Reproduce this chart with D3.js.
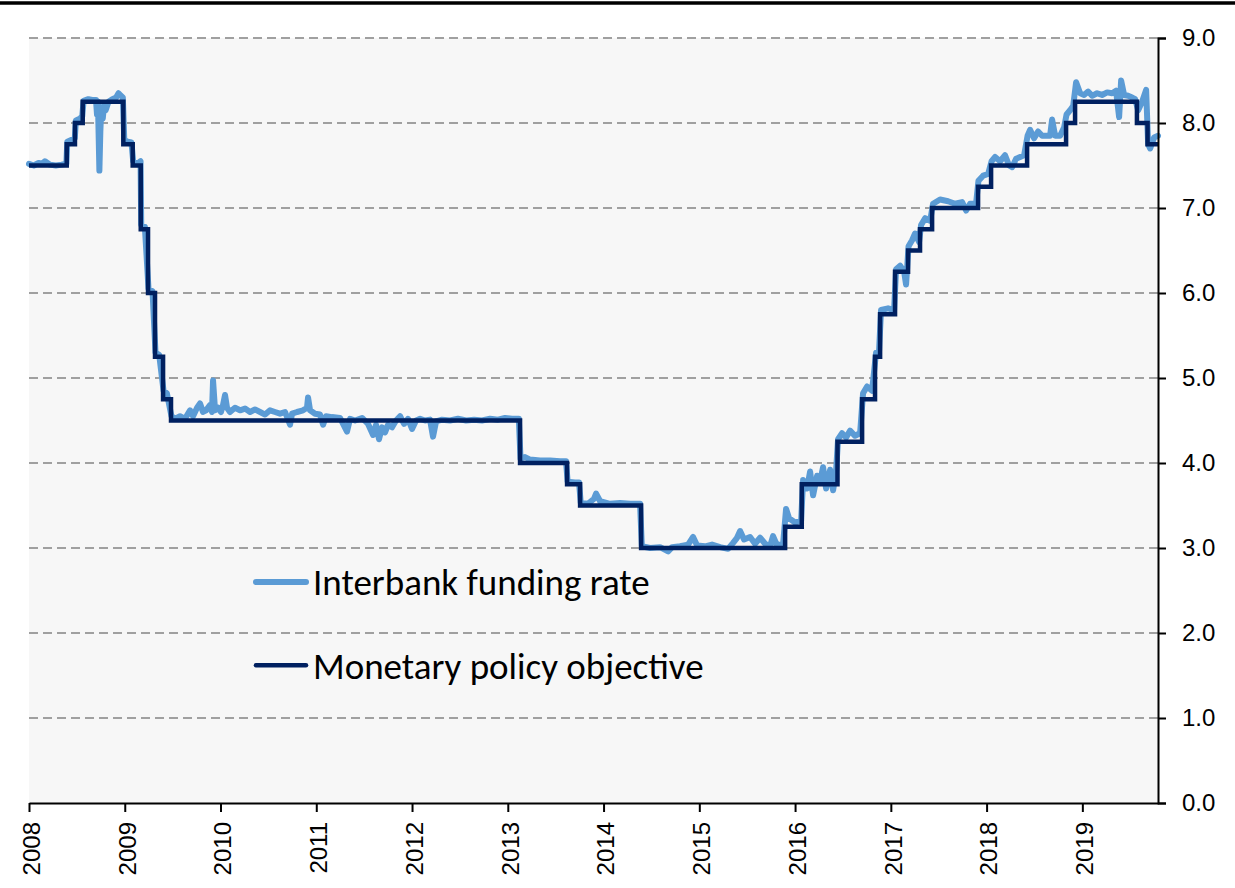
<!DOCTYPE html>
<html>
<head>
<meta charset="utf-8">
<script src="https://cdn.jsdelivr.net/npm/d3@7"></script>
<style>
  html, body { margin: 0; padding: 0; background: #ffffff; }
  svg { display: block; }
</style>
</head>
<body>
<svg id="chart" width="1235" height="888"></svg>
<script>
// ---------------- DATA (decimal years / percent) ----------------
const yearTicks = [2008, 2009, 2010, 2011, 2012, 2013, 2014, 2015, 2016, 2017, 2018, 2019];
const rateTicks = [0, 1, 2, 3, 4, 5, 6, 7, 8, 9];
const seriesNames = ["Interbank funding rate", "Monetary policy objective"];
const endYear = 2019.79;

// Monetary policy objective: step changes (date, new level)
const policyDates = [2008.000, 2008.394, 2008.480, 2008.561, 2008.985, 2009.083, 2009.167, 2009.243,
  2009.316, 2009.400, 2009.483, 2013.128, 2013.619, 2013.755, 2014.392, 2015.896, 2016.070,
  2016.443, 2016.700, 2016.835, 2016.888, 2017.044, 2017.180, 2017.305, 2017.431, 2017.911,
  2018.047, 2018.423, 2018.830, 2018.924, 2019.570, 2019.681, 2019.79];
const policyRates = [7.50, 7.75, 8.00, 8.25, 7.75, 7.50, 6.75, 6.00,
  5.25, 4.75, 4.50, 4.00, 3.75, 3.50, 3.00, 3.25, 3.75,
  4.25, 4.75, 5.25, 5.75, 6.25, 6.50, 6.75, 7.00, 7.25,
  7.50, 7.75, 8.00, 8.25, 8.00, 7.75, 7.75];

// Interbank funding rate
const interbankDates = [
  2008.000, 2008.050, 2008.100, 2008.140, 2008.167, 2008.220, 2008.280, 2008.340, 2008.390,
  2008.400, 2008.440, 2008.478, 2008.490, 2008.530, 2008.556, 2008.570, 2008.620, 2008.660,
  2008.700, 2008.710, 2008.720, 2008.735, 2008.745, 2008.755, 2008.770, 2008.785, 2008.800,
  2008.830, 2008.870, 2008.910, 2008.935, 2008.960, 2008.980, 2008.995, 2009.030, 2009.070,
  2009.088, 2009.130, 2009.165, 2009.172, 2009.210, 2009.248, 2009.290, 2009.321, 2009.360,
  2009.405, 2009.440, 2009.488, 2009.525, 2009.577, 2009.629, 2009.682, 2009.713, 2009.755,
  2009.786, 2009.817, 2009.849, 2009.890, 2009.911, 2009.922, 2009.943, 2009.974, 2010.005,
  2010.026, 2010.047, 2010.068, 2010.099, 2010.151, 2010.204, 2010.256, 2010.308, 2010.360,
  2010.413, 2010.465, 2010.517, 2010.569, 2010.621, 2010.674, 2010.726, 2010.747, 2010.799,
  2010.862, 2010.903, 2010.914, 2010.935, 2010.987, 2011.039, 2011.071, 2011.102, 2011.164,
  2011.248, 2011.321, 2011.353, 2011.405, 2011.478, 2011.541, 2011.593, 2011.624, 2011.655,
  2011.687, 2011.718, 2011.749, 2011.791, 2011.833, 2011.875, 2011.917, 2011.958, 2012.000,
  2012.042, 2012.084, 2012.136, 2012.188, 2012.219, 2012.251, 2012.313, 2012.397, 2012.480,
  2012.564, 2012.648, 2012.731, 2012.815, 2012.898, 2012.971, 2013.044, 2013.115, 2013.133,
  2013.180, 2013.232, 2013.337, 2013.441, 2013.546, 2013.608, 2013.625, 2013.702, 2013.744,
  2013.762, 2013.838, 2013.901, 2013.922, 2013.964, 2014.068, 2014.172, 2014.277, 2014.381,
  2014.400, 2014.486, 2014.590, 2014.674, 2014.716, 2014.799, 2014.883, 2014.935, 2014.977,
  2015.060, 2015.133, 2015.217, 2015.300, 2015.353, 2015.394, 2015.426, 2015.467, 2015.530,
  2015.582, 2015.635, 2015.687, 2015.739, 2015.770, 2015.812, 2015.875, 2015.906, 2015.937,
  2016.000, 2016.063, 2016.084, 2016.125, 2016.157, 2016.188, 2016.230, 2016.261, 2016.292,
  2016.324, 2016.366, 2016.397, 2016.428, 2016.449, 2016.491, 2016.533, 2016.574, 2016.626,
  2016.679, 2016.710, 2016.752, 2016.804, 2016.846, 2016.877, 2016.898, 2016.971, 2017.034,
  2017.055, 2017.097, 2017.139, 2017.159, 2017.185, 2017.222, 2017.253, 2017.295, 2017.316,
  2017.358, 2017.410, 2017.441, 2017.514, 2017.598, 2017.671, 2017.744, 2017.786, 2017.828,
  2017.890, 2017.915, 2017.964, 2018.016, 2018.052, 2018.089, 2018.141, 2018.193, 2018.235,
  2018.266, 2018.308, 2018.350, 2018.392, 2018.428, 2018.454, 2018.496, 2018.538, 2018.580,
  2018.621, 2018.663, 2018.684, 2018.716, 2018.768, 2018.810, 2018.835, 2018.872, 2018.904,
  2018.935, 2018.977, 2019.018, 2019.060, 2019.102, 2019.154, 2019.206, 2019.259, 2019.311,
  2019.352, 2019.384, 2019.405, 2019.436, 2019.478, 2019.520, 2019.551, 2019.583, 2019.624,
  2019.666, 2019.687, 2019.708, 2019.749, 2019.790];
const interbankRates = [
  7.52, 7.50, 7.53, 7.52, 7.55, 7.51, 7.50, 7.51, 7.52,
  7.78, 7.80, 7.82, 8.03, 8.05, 8.08, 8.26, 8.28, 8.27,
  8.27, 8.10, 8.25, 7.44, 7.90, 8.18, 8.05, 8.22, 8.15,
  8.25, 8.28, 8.30, 8.35, 8.32, 8.30, 7.80, 7.78, 7.77,
  7.55, 7.52, 7.55, 6.80, 6.78, 6.05, 6.02, 5.30, 5.27,
  4.85, 4.82, 4.55, 4.52, 4.55, 4.52, 4.62, 4.55, 4.65,
  4.70, 4.60, 4.62, 4.68, 4.60, 4.97, 4.62, 4.65, 4.60,
  4.68, 4.80, 4.65, 4.60, 4.65, 4.62, 4.64, 4.60, 4.63,
  4.60, 4.57, 4.62, 4.60, 4.58, 4.60, 4.45, 4.58, 4.60,
  4.62, 4.65, 4.77, 4.62, 4.58, 4.57, 4.45, 4.55, 4.54,
  4.53, 4.37, 4.52, 4.50, 4.53, 4.46, 4.33, 4.45, 4.28,
  4.42, 4.36, 4.45, 4.42, 4.50, 4.55, 4.46, 4.52, 4.40,
  4.50, 4.52, 4.50, 4.51, 4.31, 4.49, 4.51, 4.50, 4.52,
  4.50, 4.51, 4.50, 4.52, 4.51, 4.53, 4.52, 4.52, 4.05,
  4.07, 4.04, 4.03, 4.03, 4.02, 4.02, 3.78, 3.77, 3.77,
  3.53, 3.52, 3.58, 3.64, 3.55, 3.52, 3.53, 3.52, 3.52,
  3.02, 3.00, 3.01, 2.96, 3.01, 3.02, 3.04, 3.13, 3.03,
  3.02, 3.04, 3.01, 2.99, 3.06, 3.12, 3.20, 3.10, 3.13,
  3.05, 3.12, 3.05, 3.02, 3.14, 3.03, 3.05, 3.46, 3.35,
  3.30, 3.32, 3.80, 3.70, 3.90, 3.62, 3.85, 3.78, 3.95,
  3.70, 3.92, 3.68, 3.90, 4.28, 4.35, 4.30, 4.38, 4.32,
  4.35, 4.82, 4.90, 4.85, 5.30, 5.32, 5.80, 5.82, 5.80,
  6.28, 6.32, 6.25, 6.10, 6.55, 6.62, 6.70, 6.60, 6.80,
  6.88, 6.85, 7.05, 7.10, 7.08, 7.05, 7.07, 6.97, 7.05,
  7.05, 7.32, 7.38, 7.40, 7.55, 7.60, 7.55, 7.62, 7.50,
  7.48, 7.58, 7.60, 7.62, 7.85, 7.92, 7.82, 7.90, 7.85,
  7.85, 7.85, 8.04, 7.85, 7.85, 7.95, 8.10, 8.15, 8.20,
  8.48, 8.35, 8.33, 8.37, 8.32, 8.35, 8.33, 8.36, 8.35,
  8.38, 8.07, 8.50, 8.33, 8.32, 8.30, 8.28, 8.15, 8.25,
  8.39, 7.75, 7.70, 7.83, 7.85];

// ---------------- CHART ----------------
const W = 1235, H = 888;
const margin = { left: 29, right: 77, top: 38, bottom: 85 };
const svg = d3.select("#chart");

// top rule
svg.append("line")
  .attr("x1", 0).attr("x2", W).attr("y1", 3).attr("y2", 3)
  .attr("stroke", "#000").attr("stroke-width", 3.5);

const x = d3.scaleLinear().domain([2008, endYear]).range([margin.left, W - margin.right]);
const y = d3.scaleLinear().domain([0, 9]).range([H - margin.bottom, margin.top]);

// plot background
svg.append("rect")
  .attr("x", x.range()[0]).attr("y", y(9))
  .attr("width", x.range()[1] - x.range()[0]).attr("height", y(0) - y(9))
  .attr("fill", "#f7f7f7");

// gridlines
svg.append("g").selectAll("line")
  .data(rateTicks.filter(d => d > 0))
  .join("line")
  .attr("x1", x.range()[0]).attr("x2", x.range()[1])
  .attr("y1", d => y(d)).attr("y2", d => y(d))
  .attr("stroke", "#a0a0a0").attr("stroke-width", 2)
  .attr("stroke-dasharray", "9,5");

// interbank line
const ibData = interbankDates.map((d, i) => ({ t: d, v: interbankRates[i] }));
svg.append("path")
  .datum(ibData)
  .attr("fill", "none")
  .attr("stroke", "#5b9bd5")
  .attr("stroke-width", 6)
  .attr("stroke-linejoin", "round")
  .attr("stroke-linecap", "round")
  .attr("d", d3.line().x(d => x(d.t)).y(d => y(d.v)));

// policy step line
const polData = policyDates.map((d, i) => ({ t: d, v: policyRates[i] }));
svg.append("path")
  .datum(polData)
  .attr("fill", "none")
  .attr("stroke", "#002060")
  .attr("stroke-width", 4.5)
  .attr("stroke-linejoin", "miter")
  .attr("d", d3.line().curve(d3.curveStepAfter).x(d => x(d.t)).y(d => y(d.v)));

// right axis
const yAxis = d3.axisRight(y).tickValues(rateTicks).tickFormat(d3.format(".1f"))
  .tickSize(8).tickPadding(16);
const gy = svg.append("g").attr("transform", `translate(${x.range()[1]},0)`).call(yAxis);
gy.select(".domain").attr("stroke", "#000").attr("stroke-width", 2);
gy.selectAll(".tick line").attr("stroke", "#000").attr("stroke-width", 2);
gy.selectAll(".tick text")
  .attr("font-family", "'Liberation Sans', Arial, sans-serif")
  .attr("font-size", 24).attr("fill", "#000");

// bottom axis
const xAxis = d3.axisBottom(x).tickValues(yearTicks).tickFormat(d3.format("d"))
  .tickSize(9).tickSizeOuter(0);
const gx = svg.append("g").attr("transform", `translate(0,${y(0)})`).call(xAxis);
gx.select(".domain").attr("stroke", "#000").attr("stroke-width", 2);
gx.selectAll(".tick line").attr("stroke", "#000").attr("stroke-width", 2);
gx.selectAll(".tick text")
  .attr("font-family", "'Liberation Sans', Arial, sans-serif")
  .attr("font-size", 24).attr("fill", "#000")
  .attr("text-anchor", "end")
  .attr("transform", "rotate(-90)")
  .attr("x", -19).attr("y", 2).attr("dy", "0.35em");

// legend
const legendItems = [
  { name: seriesNames[0], color: "#5b9bd5", width: 6, val: 2.6 },
  { name: seriesNames[1], color: "#002060", width: 4.5, val: 1.62 }
];
const lg = svg.append("g");
legendItems.forEach((it, i) => {
  const cy = y(it.val);
  lg.append("line")
    .attr("x1", 256).attr("x2", 306).attr("y1", cy).attr("y2", cy)
    .attr("stroke", it.color).attr("stroke-width", it.width)
    .attr("stroke-linecap", "round");
  lg.append("text")
    .attr("x", 313).attr("y", cy).attr("dy", "0.36em")
    .attr("font-family", "Carlito, Calibri, Lato, 'Open Sans', sans-serif")
    .attr("font-size", 37).attr("fill", "#000")
    .text(it.name);
});
</script>
</body>
</html>
